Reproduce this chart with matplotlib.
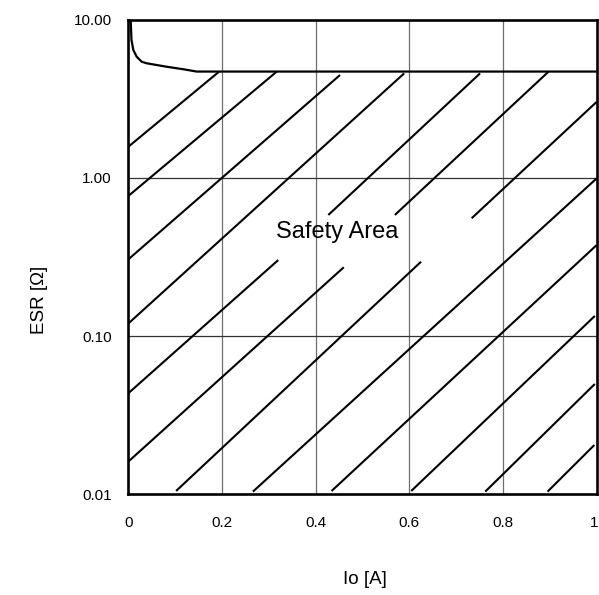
import matplotlib
matplotlib.use("Agg")
import matplotlib.pyplot as plt
from matplotlib.collections import LineCollection
from matplotlib.transforms import ScaledTranslation
import numpy as np

plt.rcParams['font.family'] = ['Liberation Sans', 'DejaVu Sans']

# Axis ticks / labels
x_ticks = [0, 0.2, 0.4, 0.6, 0.8, 1.0]
x_tick_labels = ["0", "0.2", "0.4", "0.6", "0.8", "1"]
y_ticks = [0.01, 0.1, 1.0, 10.0]
y_tick_labels = ["0.01", "0.10", "1.00", "10.00"]

# Boundary curve of the safety area (Io [A], ESR [ohm])
boundary_io = [0.005, 0.0068, 0.0107, 0.0179, 0.0286, 0.0393, 0.082, 0.1174, 0.146, 1.0]
boundary_esr = [10.0, 7.42, 6.42, 5.82, 5.41, 5.29, 5.03, 4.85, 4.69, 4.69]

# Hatch segments (start / end points in data units)
hatch_x0 = [0.0, 0.0, 0.0, 0.0, 0.0, 0.427, 0.0, 0.569, 0.102, 0.733, 0.266, 0.434, 0.604, 0.762, 0.895]
hatch_y0 = [1.57, 0.767, 0.305, 0.120, 0.0435, 0.582, 0.0161, 0.582, 0.0105, 0.555, 0.0104, 0.0105, 0.0105, 0.0104, 0.0104]
hatch_x1 = [0.194, 0.317, 0.452, 0.589, 0.320, 0.751, 0.460, 0.897, 0.625, 1.0, 1.0, 1.0, 0.996, 0.996, 0.995]
hatch_y1 = [4.69, 4.69, 4.46, 4.57, 0.302, 4.57, 0.272, 4.68, 0.295, 3.02, 0.992, 0.376, 0.134, 0.0498, 0.0205]

fig = plt.figure(figsize=(5.99, 5.95), dpi=100)
ax = fig.add_axes([0.2142, 0.1692, 0.782, 0.798])
ax.set_yscale('log')
ax.set_xlim(0, 1)
ax.set_ylim(0.01, 10)

# grid
for xv in x_ticks[1:-1]:
    ax.axvline(xv, color='#6e6e6e', lw=0.9, zorder=1)
for yv in y_ticks[1:-1]:
    ax.axhline(yv, color='#333333', lw=0.9, zorder=1)

segs = [[(a, b), (c, d)] for a, b, c, d in zip(hatch_x0, hatch_y0, hatch_x1, hatch_y1)]
lc = LineCollection(segs, colors='black', linewidths=1.5, zorder=2)
ax.add_collection(lc)

ax.plot(boundary_io, boundary_esr, color='black', lw=1.6, zorder=3, solid_joinstyle='round')

ax.text(0.4456, 0.4544, "Safety Area", fontsize=17, ha='center', va='center', zorder=4)

ax.set_xticks(x_ticks)
ax.set_xticklabels(x_tick_labels)
ax.set_yticks(y_ticks)
ax.set_yticklabels(y_tick_labels)
ax.yaxis.set_minor_locator(matplotlib.ticker.NullLocator())
ax.tick_params(axis='both', length=0, labelsize=11)
ax.tick_params(axis='x', pad=15.5)
ax.tick_params(axis='y', pad=12)

# keep the last x tick label inside the figure
last = ax.get_xticklabels()[-1]
last.set_transform(last.get_transform() + ScaledTranslation(-3 / 100, 0, fig.dpi_scale_trans))

for s in ax.spines.values():
    s.set_linewidth(1.9)
    s.set_color('black')

fig.text(40 / 599, 1 - 300 / 595, "ESR [Ω]", rotation=90, fontsize=13.5, ha='center', va='center')
fig.text(365 / 599, 1 - 579 / 595, "Io [A]", fontsize=13.5, ha='center', va='center')

fig.savefig("out.png", dpi=100)
